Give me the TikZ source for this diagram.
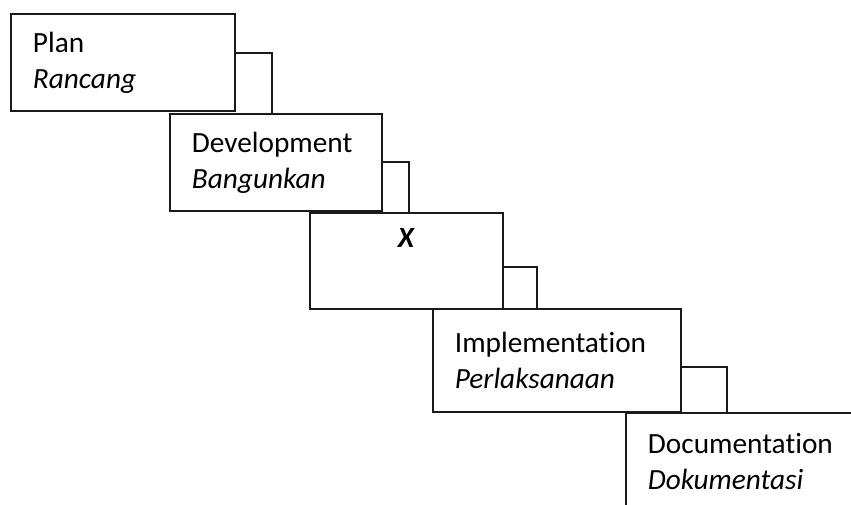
\documentclass[tikz,border=0pt]{standalone}
\usepackage{fontspec}
\setmainfont{Carlito}[Ligatures=NoCommon]
\usetikzlibrary{positioning,calc}
\definecolor{edge}{HTML}{1a1a1a}

\begin{document}
\begin{tikzpicture}[x=1pt, y=-1pt,
  stage/.style={draw=edge, line width=1.8pt, fill=white, anchor=north west,
    align=left, inner xsep=22pt, inner ysep=0pt,
    font=\fontsize{29.3}{36}\selectfont},
  link/.style={draw=edge, line width=1.8pt}]
  \clip (0,0) rectangle (851,504);
  \fill[white] (0,0) rectangle (851,504);

  % Stages of the cycle
  \node[stage, text width=180pt, minimum height=97pt] (plan) at (10,13) {Plan\\\textit{Rancang}};
  \node[stage, text width=168pt, minimum height=97pt] (dev) at (169,113) {Development\\\textit{Bangunkan}};
  \node[stage, text width=149pt, minimum height=96pt, align=center] (xstage) at (309,212) {\textbf{\textit{X}}\\\strut};
  \node[stage, text width=204pt, minimum height=103pt] (impl) at (432,308) {Implementation\\\textit{Perlaksanaan}};
  \node[stage, text width=216pt, minimum height=97pt] (doc) at (625,412) {Documentation\\\textit{Dokumentasi}};

  % Step links between stages
  \coordinate (k1) at ([xshift=36pt]plan.north east);
  \coordinate (k2) at ([xshift=26pt]dev.north east);
  \coordinate (k3) at ([xshift=33pt]xstage.north east);
  \coordinate (k4) at ([xshift=45pt]impl.north east);
  \draw[link] ([yshift=-40pt]plan.north east) -| (k1 |- dev.north);
  \draw[link] ([yshift=-49pt]dev.north east) -| (k2 |- xstage.north);
  \draw[link] ([yshift=-55pt]xstage.north east) -| (k3 |- impl.north);
  \draw[link] ([yshift=-59pt]impl.north east) -| (k4 |- doc.north);
\end{tikzpicture}
\end{document}
